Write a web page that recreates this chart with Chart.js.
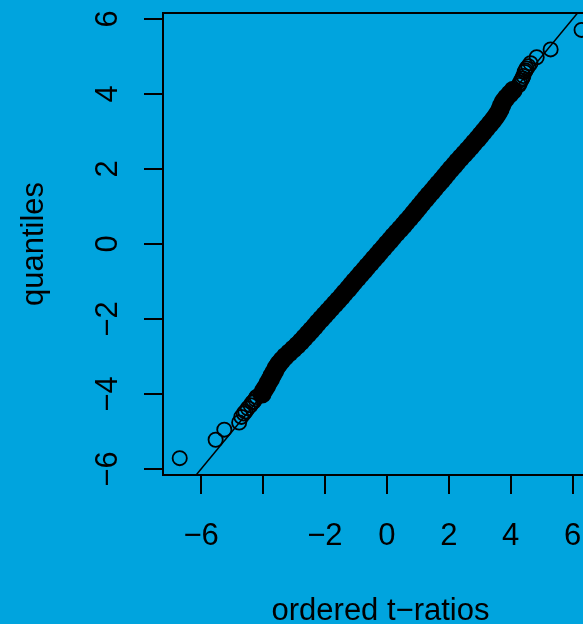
<!DOCTYPE html>
<html>
<head>
<meta charset="utf-8">
<script src="https://cdn.jsdelivr.net/npm/chart.js@4.4.1/dist/chart.umd.min.js"></script>
<style>
  html, body { margin: 0; padding: 0; overflow: hidden; background: #00A4DE; }
  #wrap { position: relative; width: 610px; height: 624px; }
</style>
</head>
<body>
<div id="wrap"><canvas id="qq" width="610" height="624"></canvas></div>
<script>
// Normal QQ plot: ordered t-ratios against theoretical quantiles.

// Sparse tail observations, drawn as open circles
const tailRatios    = [-6.69, -5.53, -5.25, -4.77, -4.70, -4.62, -4.57, -4.49, -4.40, -4.35, -4.30, -4.25, -4.21,
                        4.27, 4.30, 4.34, 4.38, 4.41, 4.45, 4.48, 4.51, 4.57, 4.64, 4.84, 5.29, 6.29];
const tailQuantiles = [-5.71, -5.22, -4.95, -4.76, -4.61, -4.52, -4.47, -4.38, -4.30, -4.23, -4.20, -4.14, -4.08,
                        4.24, 4.30, 4.37, 4.42, 4.48, 4.59, 4.63, 4.68, 4.74, 4.82, 4.98, 5.19, 5.71];

// Dense central run: thousands of overlapping circles that merge into a solid band
const bandRatios = [
  -4.03, -3.97, -3.89, -3.83, -3.76, -3.70, -3.63, -3.57, -3.49, -3.39,
  -3.28, -3.15, -3.02, -2.89, -2.77, -2.66, -2.55, -2.44, -2.33, -2.23,
  -2.12, -2.01, -1.90, -1.79, -1.68, -1.57, -1.46, -1.36, -1.25, -1.15,
  -1.05, -0.94, -0.84, -0.73, -0.63, -0.52, -0.42, -0.31, -0.21, -0.10,
   0.00,  0.11,  0.21,  0.32,  0.43,  0.54,  0.64,  0.75,  0.85,  0.95,
   1.05,  1.15,  1.25,  1.35,  1.46,  1.56,  1.66,  1.77,  1.87,  1.97,
   2.07,  2.18,  2.28,  2.39,  2.50,  2.61,  2.72,  2.82,  2.93,  3.03,
   3.13,  3.23,  3.33,  3.43,  3.52,  3.60,  3.66,  3.71,  3.77,  3.86,
   3.97,  4.08
];
const bandQuantiles = [
  -4.0, -3.9, -3.8, -3.7, -3.6, -3.5, -3.4, -3.3, -3.2, -3.1,
  -3.0, -2.9, -2.8, -2.7, -2.6, -2.5, -2.4, -2.3, -2.2, -2.1,
  -2.0, -1.9, -1.8, -1.7, -1.6, -1.5, -1.4, -1.3, -1.2, -1.1,
  -1.0, -0.9, -0.8, -0.7, -0.6, -0.5, -0.4, -0.3, -0.2, -0.1,
   0.0,  0.1,  0.2,  0.3,  0.4,  0.5,  0.6,  0.7,  0.8,  0.9,
   1.0,  1.1,  1.2,  1.3,  1.4,  1.5,  1.6,  1.7,  1.8,  1.9,
   2.0,  2.1,  2.2,  2.3,  2.4,  2.5,  2.6,  2.7,  2.8,  2.9,
   3.0,  3.1,  3.2,  3.3,  3.4,  3.5,  3.6,  3.7,  3.8,  3.9,
   4.0,  4.1
];

// Reference line y = a + b x
const refIntercept = 0;
const refSlope = 1;

// Axis ticks (the -4 label on x is dropped, as it collides with its neighbours)
const xTickValues = [-6, -4, -2, 0, 2, 4, 6];
const xTickLabels = ['\u22126', '', '\u22122', '0', '2', '4', '6'];
const yTickValues = [-6, -4, -2, 0, 2, 4, 6];
const yTickLabels = ['\u22126', '\u22124', '\u22122', '0', '2', '4', '6'];

const xLimits = [-7.23, 6.82];
const yLimits = [-6.16, 6.16];

const FONT = '31px "Liberation Sans", Arial, Helvetica, sans-serif';
const INK = '#000000';

const pairs = (xs, ys) => xs.map((x, i) => ({ x: x, y: ys[i] }));
const refLine = yLimits.map(yv => ({ x: (yv - refIntercept) / refSlope, y: yv }));

// Box round the plot region, tick labels and axis titles in base-graphics style
const framePlugin = {
  id: 'frame',
  afterDraw(chart) {
    const { ctx, chartArea: a, scales } = chart;
    const xs = scales.x, ys = scales.y;
    ctx.save();
    ctx.strokeStyle = INK;
    ctx.lineWidth = 2;
    ctx.strokeRect(a.left, a.top, a.right - a.left, a.bottom - a.top);

    ctx.fillStyle = INK;
    ctx.font = FONT;
    ctx.textAlign = 'center';
    ctx.textBaseline = 'alphabetic';
    xTickValues.forEach((v, i) => {
      if (xTickLabels[i]) ctx.fillText(xTickLabels[i], xs.getPixelForValue(v), a.bottom + 70);
    });
    yTickValues.forEach((v, i) => {
      ctx.save();
      ctx.translate(a.left - 46, ys.getPixelForValue(v));
      ctx.rotate(-Math.PI / 2);
      ctx.fillText(yTickLabels[i], 0, 0);
      ctx.restore();
    });

    ctx.fillText('ordered t\u2212ratios', (a.left + a.right) / 2, a.bottom + 145);
    ctx.save();
    ctx.translate(a.left - 120, (a.top + a.bottom) / 2);
    ctx.rotate(-Math.PI / 2);
    ctx.fillText('quantiles', 0, 0);
    ctx.restore();
    ctx.restore();
  }
};

const tickGrid = { drawOnChartArea: false, drawTicks: true, tickLength: 19, color: INK, lineWidth: 2 };

new Chart(document.getElementById('qq'), {
  type: 'scatter',
  data: {
    datasets: [
      {
        label: 'central',
        data: pairs(bandRatios, bandQuantiles),
        pointRadius: 8.6,
        pointBorderWidth: 1.8,
        pointBorderColor: INK,
        pointBackgroundColor: INK
      },
      {
        label: 'tails',
        data: pairs(tailRatios, tailQuantiles),
        pointRadius: 7.1,
        pointBorderWidth: 1.8,
        pointBorderColor: INK,
        pointBackgroundColor: 'rgba(0,0,0,0)'
      },
      {
        type: 'line',
        label: 'reference',
        data: refLine,
        borderColor: INK,
        borderWidth: 1.5,
        pointRadius: 0,
        fill: false
      }
    ]
  },
  options: {
    responsive: false,
    devicePixelRatio: 1,
    animation: false,
    events: [],
    layout: { padding: { top: 13, right: 12, bottom: 0, left: 0 } },
    plugins: { legend: { display: false }, tooltip: { enabled: false } },
    scales: {
      x: {
        type: 'linear',
        position: 'bottom',
        min: xLimits[0],
        max: xLimits[1],
        border: { display: false },
        grid: tickGrid,
        ticks: { display: false },
        afterBuildTicks: s => { s.ticks = xTickValues.map(v => ({ value: v })); },
        afterFit: s => { s.height = 149; }
      },
      y: {
        type: 'linear',
        position: 'left',
        min: yLimits[0],
        max: yLimits[1],
        border: { display: false },
        grid: tickGrid,
        ticks: { display: false },
        afterBuildTicks: s => { s.ticks = yTickValues.map(v => ({ value: v })); },
        afterFit: s => { s.width = 163; }
      }
    }
  },
  plugins: [framePlugin]
});
</script>
</body>
</html>
